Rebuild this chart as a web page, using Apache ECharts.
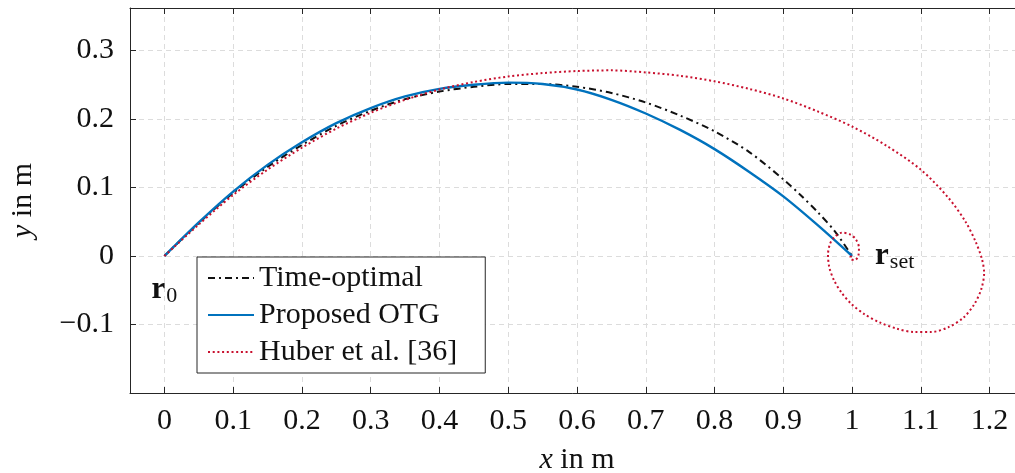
<!DOCTYPE html>
<html><head><meta charset="utf-8">
<script src="https://cdn.jsdelivr.net/npm/echarts@6/dist/echarts.min.js"></script>
<style>html,body{margin:0;padding:0;background:#fff}#c{width:1015px;height:473px}</style>
</head><body><div id="c"></div>
<script>
const xTicks = [0,0.1,0.2,0.3,0.4,0.5,0.6,0.7,0.8,0.9,1,1.1,1.2];
const yTicks = [-0.1,0,0.1,0.2,0.3];

const timeOptX = [0,0.05,0.1,0.15,0.2,0.25,0.3,0.35,0.4,0.45,0.5,0.55,0.6,0.65,0.7,0.75,0.8,0.85,0.9,0.925,0.95,0.975,1.0];
const timeOptY = [0,0.048,0.092,0.13,0.162,0.19,0.212,0.229,0.240,0.247,0.251,0.251,0.247,0.238,0.224,0.205,0.182,0.152,0.112,0.089,0.064,0.036,0.0];

const otgX = [0,0.05,0.1,0.15,0.2,0.25,0.3,0.35,0.4,0.45,0.5,0.55,0.6,0.65,0.7,0.75,0.8,0.85,0.9,0.95,1.0];
const otgY = [0,0.049,0.094,0.133,0.166,0.194,0.216,0.233,0.244,0.250,0.253,0.251,0.243,0.228,0.208,0.184,0.156,0.123,0.087,0.045,0.0];

const huberX = [0,0.05,0.1,0.15,0.2,0.25,0.3,0.35,0.4,0.45,0.5,0.55,0.6,0.65,0.7,0.75,0.8,0.85,0.9,0.95,1.0,1.05,1.1,1.14,1.165,1.18,1.189,1.192,1.188,1.178,1.162,1.14,1.115,1.09,1.065,1.04,1.018,0.999,0.985,0.974,0.967,0.965,0.968,0.975,0.985,0.996,1.005,1.01,1.009,1.004,0.999,0.997,1.0];
const huberY = [0,0.046,0.089,0.126,0.158,0.186,0.209,0.228,0.243,0.254,0.262,0.267,0.270,0.271,0.268,0.263,0.255,0.244,0.230,0.211,0.189,0.161,0.126,0.085,0.05,0.02,-0.005,-0.025,-0.048,-0.07,-0.09,-0.104,-0.111,-0.111,-0.106,-0.097,-0.085,-0.07,-0.054,-0.036,-0.017,0.002,0.018,0.028,0.034,0.032,0.025,0.012,0.0,-0.006,-0.005,-0.002,0.0];

const zip = (a, b) => a.map((v, i) => [v, b[i]]);
const FF = '"Liberation Serif", "DejaVu Serif", serif';
const AX = '#262626';
const FS = 30;

const chart = echarts.init(document.getElementById('c'), null, {renderer: 'canvas'});
const fmt = v => (Math.round(v * 10) / 10).toString().replace('-', '\u2212');

chart.setOption({
  animation: false,
  backgroundColor: '#fff',
  textStyle: {fontFamily: FF},
  grid: {left: 130, top: 8, width: 894, bottom: 80, containLabel: false, outerBoundsMode: 'none'},
  legend: {
    orient: 'vertical', left: 197, top: 257,
    data: ['Time-optimal', 'Proposed OTG', 'Huber et al. [36]'],
    backgroundColor: '#fff', borderColor: '#262626', borderWidth: 1, borderRadius: 0,
    padding: [6, 28, 6, 10], itemGap: 7, itemWidth: 46, itemHeight: 14, itemTextGap: 7,
    itemStyle: {opacity: 0},
    textStyle: {fontFamily: FF, fontSize: FS, color: '#111'}
  },
  xAxis: [{
    type: 'value', min: -0.05, max: 1.25,
    name: '{i|x} in m', nameLocation: 'middle', nameGap: 52,
    nameTextStyle: {fontFamily: FF, fontSize: FS, color: '#111', rich: {i: {fontStyle: 'italic', fontFamily: FF, fontSize: FS}}},
    axisLine: {show: true, onZero: false, lineStyle: {color: AX, width: 1}},
    axisTick: {show: true, inside: true, length: 6, customValues: xTicks, lineStyle: {color: AX}},
    axisLabel: {customValues: xTicks, formatter: fmt, fontFamily: FF, fontSize: FS, color: '#111', margin: 13},
    splitLine: {show: true, lineStyle: {color: '#dcdcdc', type: [5, 4], width: 1}}
  }, {
    type: 'value', min: -0.05, max: 1.25, position: 'top',
    axisLine: {show: true, onZero: false, lineStyle: {color: AX, width: 1}},
    axisTick: {show: true, inside: true, length: 6, customValues: xTicks, lineStyle: {color: AX}},
    axisLabel: {show: false}, splitLine: {show: false}
  }],
  yAxis: [{
    type: 'value', min: -0.2, max: 0.362,
    name: '{i|y} in m', nameLocation: 'middle', nameGap: 92,
    nameTextStyle: {fontFamily: FF, fontSize: FS, color: '#111', rich: {i: {fontStyle: 'italic', fontFamily: FF, fontSize: FS}}},
    axisLine: {show: true, onZero: false, lineStyle: {color: AX, width: 1}},
    axisTick: {show: true, inside: true, length: 6, customValues: yTicks, lineStyle: {color: AX}},
    axisLabel: {customValues: yTicks, formatter: fmt, fontFamily: FF, fontSize: FS, color: '#111', margin: 16},
    splitLine: {show: true, lineStyle: {color: '#dcdcdc', type: [5, 4], width: 1}}
  }],
  series: [{
    name: 'Time-optimal', type: 'line', data: zip(timeOptX, timeOptY),
    symbol: 'none', smooth: 0.3, z: 3,
    lineStyle: {color: '#111', width: 2, type: [7, 4, 2, 4]}, itemStyle: {color: '#111'}
  }, {
    name: 'Proposed OTG', type: 'line', data: zip(otgX, otgY),
    symbol: 'none', smooth: 0.3, z: 4,
    lineStyle: {color: '#0072BD', width: 2.4}, itemStyle: {color: '#0072BD'},
    markPoint: {
      symbol: 'circle', symbolSize: 0, silent: true,
      label: {show: true, position: 'inside', color: '#111', fontFamily: FF,
        rich: {b: {fontWeight: 'bold', fontSize: 31, fontFamily: FF, color: '#111'},
               s: {fontSize: 22, fontFamily: FF, color: '#111', padding: [12, 0, 0, 1]}}},
      data: [
        {coord: [0.0, -0.05], value: 0, label: {formatter: '{b|r}{s|0}'}},
        {coord: [1.062, 0.0], value: 0, label: {formatter: '{b|r}{s|set}'}}
      ]
    }
  }, {
    name: 'Huber et al. [36]', type: 'line', data: zip(huberX, huberY),
    symbol: 'none', smooth: 0.3, z: 5,
    lineStyle: {color: '#C8102E', width: 2, type: [2, 2.7]}, itemStyle: {color: '#C8102E'}
  }]
});
</script>
</body></html>
